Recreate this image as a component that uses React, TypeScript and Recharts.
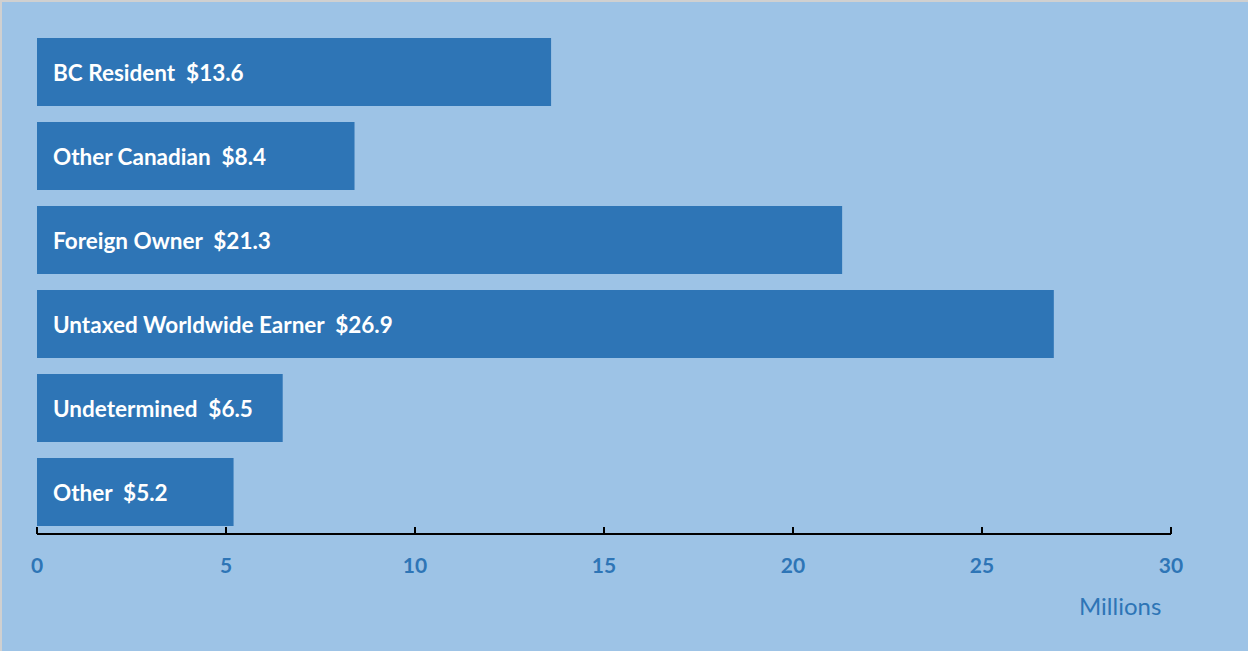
import React from 'react';
import { BarChart, Bar, XAxis, YAxis, LabelList } from 'recharts';

const categories = ['BC Resident', 'Other Canadian', 'Foreign Owner', 'Untaxed Worldwide Earner', 'Undetermined', 'Other'];
const values = [13.6, 8.4, 21.3, 26.9, 6.5, 5.2];
const xTicks = [0, 5, 10, 15, 20, 25, 30];

const data = categories.map((name, i) => ({ name, value: values[i] }));

const FONT = 'Lato, "Open Sans", sans-serif';
const BLUE = '#2E75B6';
const BG = '#9DC3E6';

const Tick = (props: any) => {
  const { x, y, payload } = props;
  return (
    <g>
      <line x1={x} x2={x} y1={y - 7} y2={y} stroke="#000" strokeWidth={2} />
      <text x={x} y={y + 39} textAnchor="middle" fill={BLUE} fontFamily={FONT} fontWeight={700} fontSize={21}>
        {payload.value}
      </text>
    </g>
  );
};

const BarLabel = (props: any) => {
  const { x, y, height, index } = props;
  return (
    <text x={x + 16} y={y + height / 2} dominantBaseline="central" fill="#fff" fontFamily={FONT} fontWeight={700} fontSize={22.5} style={{ whiteSpace: 'pre' }} xmlSpace="preserve">
      {`${categories[index]}  $${values[index]}`}
    </text>
  );
};

export default function App() {
  return (
    <div style={{ position: 'fixed', left: 0, top: 0, width: 1248, height: 651, background: BG, boxSizing: 'border-box', borderTop: '2px solid #D0D0D0', borderLeft: '2px solid #D0D0D0' }}>
      <div style={{ position: 'absolute', left: -2, top: -2 }}>
        <BarChart width={1248} height={651} data={data} layout="vertical" margin={{ top: 30, right: 77, bottom: 0, left: 37 }} barCategoryGap={8}>
          <XAxis type="number" domain={[0, 30]} ticks={xTicks} axisLine={{ stroke: '#000', strokeWidth: 2 }} tickLine={false} tickSize={0} tickMargin={0} tick={<Tick />} height={117} />
          <YAxis type="category" dataKey="name" hide />
          <Bar dataKey="value" fill={BLUE} isAnimationActive={false}>
            <LabelList dataKey="value" content={<BarLabel />} />
          </Bar>
        </BarChart>
      </div>
      <div style={{ position: 'absolute', left: 1077, top: 588, fontFamily: FONT, fontSize: 24, color: BLUE, lineHeight: '32px' }}>Millions</div>
    </div>
  );
}
